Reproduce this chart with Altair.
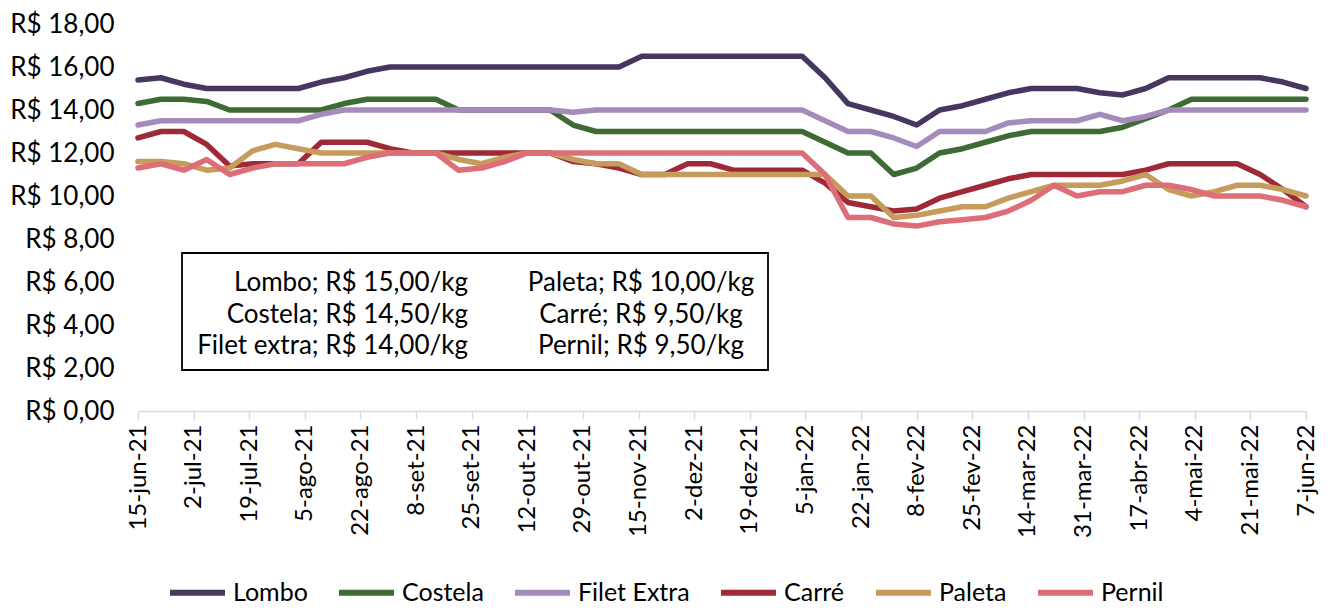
import altair as alt
import pandas as pd

# ---- data (weekly prices, R$/kg) ----
dates = pd.date_range("2021-06-15", periods=52, freq="7D").strftime("%Y-%m-%d").tolist()

lombo = [15.4, 15.5, 15.2, 15.0, 15.0, 15.0, 15.0, 15.0, 15.3, 15.5, 15.8, 16.0,
         16.0, 16.0, 16.0, 16.0, 16.0, 16.0, 16.0, 16.0, 16.0, 16.0,
         16.5, 16.5, 16.5, 16.5, 16.5, 16.5, 16.5, 16.5,
         15.5, 14.3, 14.0, 13.7, 13.3, 14.0, 14.2, 14.5, 14.8, 15.0, 15.0, 15.0,
         14.8, 14.7, 15.0, 15.5, 15.5, 15.5, 15.5, 15.5, 15.3, 15.0]
costela = [14.3, 14.5, 14.5, 14.4, 14.0, 14.0, 14.0, 14.0, 14.0, 14.3, 14.5, 14.5,
           14.5, 14.5, 14.0, 14.0, 14.0, 14.0, 14.0, 13.3,
           13.0, 13.0, 13.0, 13.0, 13.0, 13.0, 13.0, 13.0, 13.0, 13.0,
           12.5, 12.0, 12.0, 11.0, 11.3, 12.0, 12.2, 12.5, 12.8, 13.0, 13.0, 13.0,
           13.0, 13.2, 13.6, 14.0, 14.5, 14.5, 14.5, 14.5, 14.5, 14.5]
filet = [13.3, 13.5, 13.5, 13.5, 13.5, 13.5, 13.5, 13.5, 13.8,
         14.0, 14.0, 14.0, 14.0, 14.0, 14.0, 14.0, 14.0, 14.0, 14.0, 13.9,
         14.0, 14.0, 14.0, 14.0, 14.0, 14.0, 14.0, 14.0, 14.0, 14.0,
         13.5, 13.0, 13.0, 12.7, 12.3, 13.0, 13.0, 13.0, 13.4, 13.5, 13.5, 13.5,
         13.8, 13.5, 13.7, 14.0, 14.0, 14.0, 14.0, 14.0, 14.0, 14.0]
carre = [12.7, 13.0, 13.0, 12.4, 11.4, 11.5, 11.5, 11.5, 12.5, 12.5, 12.5, 12.2,
         12.0, 12.0, 12.0, 12.0, 12.0, 12.0, 12.0, 11.6, 11.5, 11.3,
         11.0, 11.0, 11.5, 11.5, 11.2, 11.2, 11.2, 11.2,
         10.6, 9.7, 9.5, 9.3, 9.4, 9.9, 10.2, 10.5, 10.8, 11.0, 11.0, 11.0,
         11.0, 11.0, 11.2, 11.5, 11.5, 11.5, 11.5, 11.0, 10.3, 9.5]
paleta = [11.6, 11.6, 11.5, 11.2, 11.3, 12.1, 12.4, 12.2, 12.0, 12.0, 12.0, 12.0,
          12.0, 12.0, 11.7, 11.5, 11.8, 12.0, 12.0, 11.7, 11.5, 11.5,
          11.0, 11.0, 11.0, 11.0, 11.0, 11.0, 11.0, 11.0, 11.0,
          10.0, 10.0, 9.0, 9.1, 9.3, 9.5, 9.5, 9.9, 10.2, 10.5, 10.5,
          10.5, 10.7, 11.0, 10.3, 10.0, 10.2, 10.5, 10.5, 10.3, 10.0]
pernil = [11.3, 11.5, 11.2, 11.7, 11.0, 11.3, 11.5, 11.5, 11.5, 11.5, 11.8, 12.0,
          12.0, 12.0, 11.2, 11.3, 11.6,
          12.0, 12.0, 12.0, 12.0, 12.0, 12.0, 12.0, 12.0, 12.0, 12.0, 12.0, 12.0, 12.0,
          11.0, 9.0, 9.0, 8.7, 8.6, 8.8, 8.9, 9.0, 9.3, 9.8, 10.5, 10.0,
          10.2, 10.2, 10.5, 10.5, 10.3, 10.0, 10.0, 10.0, 9.8, 9.5]

series = ["Lombo", "Costela", "Filet Extra", "Carré", "Paleta", "Pernil"]
colors = ["#47365F", "#3E6A34", "#A58BBB", "#A02937", "#C69B5B", "#DD6E78"]
values = [lombo, costela, filet, carre, paleta, pernil]

tick_dates = ["2021-06-15", "2021-07-02", "2021-07-19", "2021-08-05", "2021-08-22",
              "2021-09-08", "2021-09-25", "2021-10-12", "2021-10-29", "2021-11-15",
              "2021-12-02", "2021-12-19", "2022-01-05", "2022-01-22", "2022-02-08",
              "2022-02-25", "2022-03-14", "2022-03-31", "2022-04-17", "2022-05-04",
              "2022-05-21", "2022-06-07"]
y_ticks = [0, 2, 4, 6, 8, 10, 12, 14, 16, 18]

box_left = ["Lombo; R$ 15,00/kg", "Costela; R$ 14,50/kg", "Filet extra; R$ 14,00/kg"]
box_right = ["Paleta; R$ 10,00/kg", "Carré; R$ 9,50/kg", "Pernil; R$ 9,50/kg"]

# ---- build table ----
rows = []
for i, (name, vals) in enumerate(zip(series, values)):
    for d, v in zip(dates, vals):
        rows.append({"date": d, "price": v, "serie": name, "ord": i})
df = pd.DataFrame(rows)

def ms(s):
    return int(pd.Timestamp(s, tz="UTC").value // 10**6)

FONT = "Lato"
months = "['jan','fev','mar','abr','mai','jun','jul','ago','set','out','nov','dez']"
x_label_expr = ("utcdate(datum.value) + '-' + " + months + "[utcmonth(datum.value)] + '-' + "
                "substring(toString(utcyear(datum.value)), 2)")

lines = alt.Chart(df).mark_line(strokeWidth=5.5, strokeJoin="round", strokeCap="round").encode(
    x=alt.X("date:T",
            scale=alt.Scale(type="utc", domain=[ms(tick_dates[0]), ms(tick_dates[-1])], nice=False),
            axis=alt.Axis(values=[ms(t) for t in tick_dates], labelExpr=x_label_expr,
                          labelAngle=-90, labelFont=FONT, labelFontSize=24, labelColor="#000000",
                          labelPadding=5, tickSize=8, tickColor="#D9D9D9", tickWidth=1.5,
                          domainColor="#D9D9D9", domainWidth=1.5, grid=False, title=None,
                          labelOverlap=False)),
    y=alt.Y("price:Q",
            scale=alt.Scale(domain=[0, 18], nice=False, zero=True),
            axis=alt.Axis(values=y_ticks,
                          labelExpr="'R$ ' + replace(format(datum.value, '.2f'), '.', ',')",
                          labelFont=FONT, labelFontSize=26, labelColor="#000000",
                          labelPadding=24, ticks=False, domain=False, grid=False, title=None)),
    color=alt.Color("serie:N",
                    scale=alt.Scale(domain=series, range=colors),
                    legend=alt.Legend(orient="none", direction="horizontal", columns=6,
                                      legendX=29, legendY=538, title=None,
                                      symbolType="stroke", symbolSize=3025, symbolStrokeWidth=6,
                                      labelFont=FONT, labelFontSize=25, labelColor="#000000",
                                      labelOffset=5, columnPadding=19, padding=0)),
    detail="ord:O",
    order=alt.Order("ord:O"),
)

box = alt.Chart(pd.DataFrame({"a": [0]})).mark_rect(
    fill="white", fillOpacity=0, stroke="#000000", strokeWidth=1.8
).encode(x=alt.value(44), x2=alt.value(630), y=alt.value(229), y2=alt.value(346))

texts = []
line_y = [259, 291, 322]
for t, yy in zip(box_left, line_y):
    texts.append(alt.Chart(pd.DataFrame({"t": [t]})).mark_text(
        font=FONT, fontSize=26, align="right", baseline="middle", color="#000000"
    ).encode(text="t:N", x=alt.value(330), y=alt.value(yy)))
for t, yy in zip(box_right, line_y):
    texts.append(alt.Chart(pd.DataFrame({"t": [t]})).mark_text(
        font=FONT, fontSize=26, align="center", baseline="middle", color="#000000"
    ).encode(text="t:N", x=alt.value(503), y=alt.value(yy)))

chart = alt.layer(lines, box, *texts).properties(
    width=1168, height=387,
    autosize=alt.AutoSizeParams(type="none"),
    padding={"left": 130, "top": 16, "right": 21, "bottom": 195},
).configure(background="white").configure_view(stroke=None)

chart.save("out.html", embed_options={"renderer": "svg", "actions": False})
